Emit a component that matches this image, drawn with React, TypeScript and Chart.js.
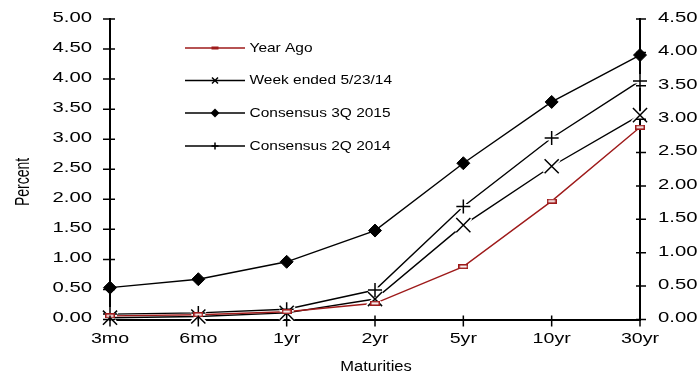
import React, { useEffect, useRef } from "react";
import { Chart, registerables } from "chart.js";

Chart.register(...registerables);

const categories = ["3mo", "6mo", "1yr", "2yr", "5yr", "10yr", "30yr"];
const yearAgo = [0.06, 0.08, 0.13, 0.27, 0.88, 1.97, 3.2];
const weekEnded = [0.03, 0.05, 0.11, 0.34, 1.57, 2.55, 3.4];
const consensus3Q2015 = [0.53, 0.67, 0.96, 1.48, 2.6, 3.62, 4.4];
const consensus2Q2014 = [0.09, 0.11, 0.17, 0.49, 1.88, 3.02, 3.97];
const seriesNames = ["Year Ago", "Week ended 5/23/14", "Consensus 3Q 2015", "Consensus 2Q 2014"];
const leftTickLabels = ["0.00", "0.50", "1.00", "1.50", "2.00", "2.50", "3.00", "3.50", "4.00", "4.50", "5.00"];
const rightTickLabels = ["0.00", "0.50", "1.00", "1.50", "2.00", "2.50", "3.00", "3.50", "4.00", "4.50"];
const yTitle = "Percent";
const xTitle = "Maturities";

const RED = "#9E1A1A";
const FONT = "'Liberation Sans', Arial, sans-serif";

function stretchText(
  ctx: CanvasRenderingContext2D,
  text: string,
  x: number,
  y: number,
  size: number,
  sx: number,
  align: CanvasTextAlign,
  rot = 0,
  sy = 1
) {
  ctx.save();
  ctx.font = `${size}px ${FONT}`;
  ctx.fillStyle = "#000";
  ctx.textBaseline = "middle";
  ctx.textAlign = align;
  ctx.translate(x, y);
  if (rot) ctx.rotate(rot);
  ctx.scale(sx, sy);
  ctx.fillText(text, 0, 0);
  ctx.restore();
}

function makeRectMarker(w: number, h: number, color: string, lw: number, fill: string) {
  const c = document.createElement("canvas");
  c.width = w;
  c.height = h;
  const g = c.getContext("2d")!;
  g.fillStyle = fill;
  g.fillRect(0, 0, w, h);
  g.strokeStyle = color;
  g.lineWidth = lw;
  g.strokeRect(lw / 2, lw / 2, w - lw, h - lw);
  return c;
}

function drawLegendMarker(ctx: CanvasRenderingContext2D, kind: number, x: number, y: number) {
  ctx.save();
  ctx.lineWidth = 1.5;
  ctx.strokeStyle = "#000";
  ctx.fillStyle = "#000";
  if (kind === 0) {
    ctx.fillStyle = RED;
    ctx.fillRect(x - 3.5, y - 1.5, 7, 3);
  } else if (kind === 1) {
    ctx.beginPath();
    ctx.moveTo(x - 3, y - 3);
    ctx.lineTo(x + 3, y + 3);
    ctx.moveTo(x + 3, y - 3);
    ctx.lineTo(x - 3, y + 3);
    ctx.stroke();
  } else if (kind === 2) {
    ctx.beginPath();
    ctx.moveTo(x, y - 4.5);
    ctx.lineTo(x + 4.5, y);
    ctx.lineTo(x, y + 4.5);
    ctx.lineTo(x - 4.5, y);
    ctx.closePath();
    ctx.fill();
  } else {
    ctx.beginPath();
    ctx.moveTo(x - 3.5, y);
    ctx.lineTo(x + 3.5, y);
    ctx.moveTo(x, y - 3.5);
    ctx.lineTo(x, y + 3.5);
    ctx.stroke();
  }
  ctx.restore();
}

const decorPlugin = {
  id: "decor",
  afterDraw(chart: any) {
    const ctx: CanvasRenderingContext2D = chart.ctx;
    const xs = chart.scales.x;
    const yl = chart.scales.y;
    const yr = chart.scales.y2;
    const area = chart.chartArea;
    ctx.save();
    ctx.strokeStyle = "#000";
    ctx.lineWidth = 1.5;
    ctx.beginPath();
    leftTickLabels.forEach((t) => {
      const y = yl.getPixelForValue(parseFloat(t));
      ctx.moveTo(area.left - 7, y);
      ctx.lineTo(area.left + 5, y);
    });
    rightTickLabels.forEach((t) => {
      const y = yr.getPixelForValue(parseFloat(t));
      ctx.moveTo(area.right - 4, y);
      ctx.lineTo(area.right + 6, y);
    });
    categories.forEach((_, i) => {
      const x = xs.getPixelForValue(i);
      ctx.moveTo(x, area.bottom - 4);
      ctx.lineTo(x, area.bottom + 7);
    });
    ctx.stroke();
    ctx.restore();

    leftTickLabels.forEach((t) => {
      const y = yl.getPixelForValue(parseFloat(t));
      stretchText(ctx, t, 92, y - 1, 14, 1.45, "right");
    });
    rightTickLabels.forEach((t) => {
      const y = yr.getPixelForValue(parseFloat(t));
      stretchText(ctx, t, 658, y - 1, 14, 1.45, "left");
    });
    categories.forEach((c, i) => {
      const x = xs.getPixelForValue(i);
      stretchText(ctx, c, x, 339.5, 14, 1.4, "center");
    });
    stretchText(ctx, xTitle, 376, 367.5, 14, 1.18, "center");
    stretchText(ctx, yTitle, 24, 182, 14, 1.0, "center", -Math.PI / 2, 1.4);

    const rows = [48, 80.5, 113, 146];
    seriesNames.forEach((name, i) => {
      const y = rows[i];
      ctx.save();
      ctx.strokeStyle = i === 0 ? RED : "#000";
      ctx.lineWidth = 1.3;
      ctx.beginPath();
      ctx.moveTo(185, y);
      ctx.lineTo(245, y);
      ctx.stroke();
      ctx.restore();
      drawLegendMarker(ctx, i, 215, y);
      stretchText(ctx, name, 249.5, y, 13, 1.19, "left");
    });
  },
};

export default function App() {
  const ref = useRef<HTMLCanvasElement | null>(null);
  useEffect(() => {
    if (!ref.current) return;
    const redMarker = makeRectMarker(10, 5, RED, 1.5, "#fff");
    const seriesData = [yearAgo, weekEnded, consensus3Q2015, consensus2Q2014];
    const colors = [RED, "#000", "#000", "#000"];
    const styles: any[] = [redMarker, "crossRot", "rectRot", "cross"];
    const radii = [5, 10, 6.5, 7];
    const pbw = [1.5, 1.5, 1, 1.5];
    const datasets: any[] = [];
    seriesData.forEach((d, i) => {
      datasets.push({
        label: seriesNames[i],
        data: d,
        borderColor: colors[i],
        borderWidth: 1.4,
        tension: 0,
        clip: false,
        pointRadius: 0,
        order: 3,
        yAxisID: "y",
      });
    });
    [1, 3].forEach((i) => {
      datasets.push({
        label: seriesNames[i] + " halo",
        data: seriesData[i],
        showLine: false,
        clip: false,
        pointStyle: styles[i],
        pointRadius: radii[i],
        pointBorderWidth: 5,
        pointBorderColor: "#fff",
        pointBackgroundColor: "#fff",
        order: 2,
        yAxisID: "y",
      });
    });
    seriesData.forEach((d, i) => {
      datasets.push({
        label: seriesNames[i] + " markers",
        data: d,
        showLine: false,
        clip: false,
        pointStyle: styles[i],
        pointRadius: radii[i],
        pointBorderWidth: pbw[i],
        pointBorderColor: "#000",
        pointBackgroundColor: "#000",
        order: 1,
        yAxisID: "y",
      });
    });
    const chart = new Chart(ref.current, {
      type: "line",
      data: { labels: categories, datasets },
      options: {
        responsive: false,
        animation: false,
        maintainAspectRatio: false,
        layout: { padding: { top: 19, left: 0, right: 0, bottom: 0 } },
        plugins: { legend: { display: false }, tooltip: { enabled: false } },
        scales: {
          x: {
            type: "category",
            offset: false,
            grid: { display: false },
            ticks: { display: false },
            border: { display: true, color: "#000", width: 2 },
            afterFit: (s: any) => {
              s.height = 57.5;
            },
          },
          y: {
            position: "left",
            min: 0,
            max: 5,
            grid: { display: false },
            ticks: { display: false, stepSize: 0.5 },
            border: { display: true, color: "#000", width: 2 },
            afterFit: (s: any) => {
              s.width = 110;
            },
          },
          y2: {
            position: "right",
            min: 0,
            max: 4.5,
            grid: { display: false },
            ticks: { display: false, stepSize: 0.5 },
            border: { display: true, color: "#000", width: 2 },
            afterFit: (s: any) => {
              s.width = 59;
            },
          },
        },
      },
      plugins: [decorPlugin],
    });
    return () => chart.destroy();
  }, []);
  return (
    <div style={{ position: "fixed", left: 0, top: 0, width: 699, height: 377, background: "#fff" }}>
      <canvas ref={ref} width={699} height={377} style={{ width: 699, height: 377, display: "block" }} />
    </div>
  );
}
